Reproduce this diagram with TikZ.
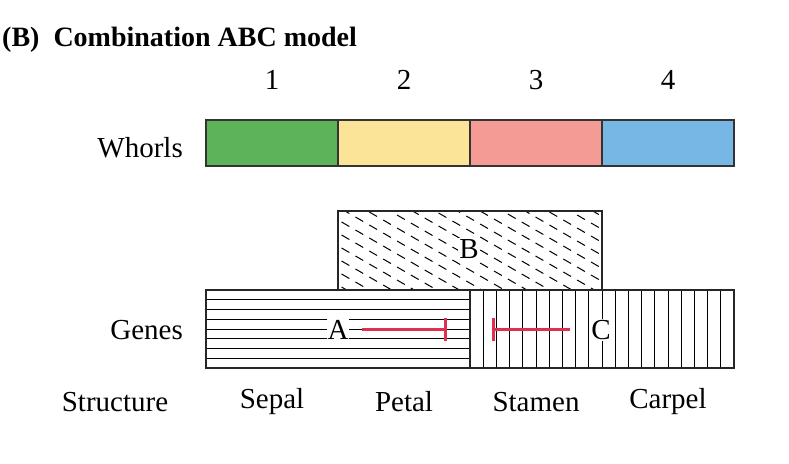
\documentclass[tikz,border=0pt]{standalone}
\usepackage{fontspec}
\setmainfont{Liberation Serif}
\definecolor{wgreen}{HTML}{5DB35A}
\definecolor{wyellow}{HTML}{FBE498}
\definecolor{wpink}{HTML}{F59B96}
\definecolor{wblue}{HTML}{77B7E5}
\definecolor{inh}{HTML}{E0304F}
\begin{document}
\begin{tikzpicture}[x=1pt,y=-1pt,
  lbl/.style={font=\fontsize{29}{30}\selectfont, inner sep=0pt},
  whorl/.style={draw=black!80, line width=1.2pt},
  gene/.style={fill=white, inner sep=1pt, font=\fontsize{29}{30}\selectfont},
  inhib/.style={draw=inh, line width=3pt}]
\useasboundingbox (0,0) rectangle (789,463);
\node[anchor=west, font=\fontsize{28}{30}\selectfont\bfseries, inner sep=0pt] (title) at (2,40) {(B)\ \ Combination ABC model};
\foreach \i/\c in {1/wgreen,2/wyellow,3/wpink,4/wblue}{
  \pgfmathsetmacro{\xa}{206+132*(\i-1)}
  \draw[whorl, fill=\c] (\xa,120) rectangle ++(132,46);
  \node[lbl] (n\i) at (\xa+66,80) {\i};
}
\node[lbl, anchor=east] (whorls) at (183,148) {Whorls};
% B box
\begin{scope}
\clip (338,211) rectangle (602,290);
\foreach \k in {-20,...,20}{
  \draw[black, line width=1pt, dash pattern=on 9pt off 7pt] (300,211+\k*13) -- ++(30:400);
}
\end{scope}
\draw[black!85, line width=1.2pt] (338,211) rectangle (602,290);
% A box
\foreach \k in {1,...,7} \draw[black, line width=1pt] (206,290+\k*9.75) -- (470,290+\k*9.75);
\draw[black!85, line width=1.2pt] (206,290) rectangle (470,368);
% C box
\foreach \k in {1,...,20} \draw[black, line width=1pt] (470+\k*13.2,290) -- (470+\k*13.2,368);
\draw[black!85, line width=1.2pt] (470,290) rectangle (734,368);
\node[gene] (B) at (469,249) {B};
\node[gene] (A) at (338,330) {A};
\node[gene] (C) at (601,330) {C};
\coordinate (ab) at (445,329);
\coordinate (cb) at (493,329);
\draw[inhib] (A.east)++(12,-1) coordinate (as) -- (ab);
\draw[inh, line width=3pt] (445,318) -- (445,341);
\draw[inhib] (C.west)++(-20,-1) coordinate (cs) -- (cb);
\draw[inh, line width=3pt] (493,318) -- (493,341);
\node[lbl, anchor=east] (genes) at (183,330) {Genes};
\node[lbl] (structure) at (115,402) {Structure};
\node[lbl] (sepal) at (272,402) {Sepal};
\node[lbl] (petal) at (404,402) {Petal};
\node[lbl] (stamen) at (536,402) {Stamen};
\node[lbl] (carpel) at (668,402) {Carpel};
\end{tikzpicture}
\end{document}
